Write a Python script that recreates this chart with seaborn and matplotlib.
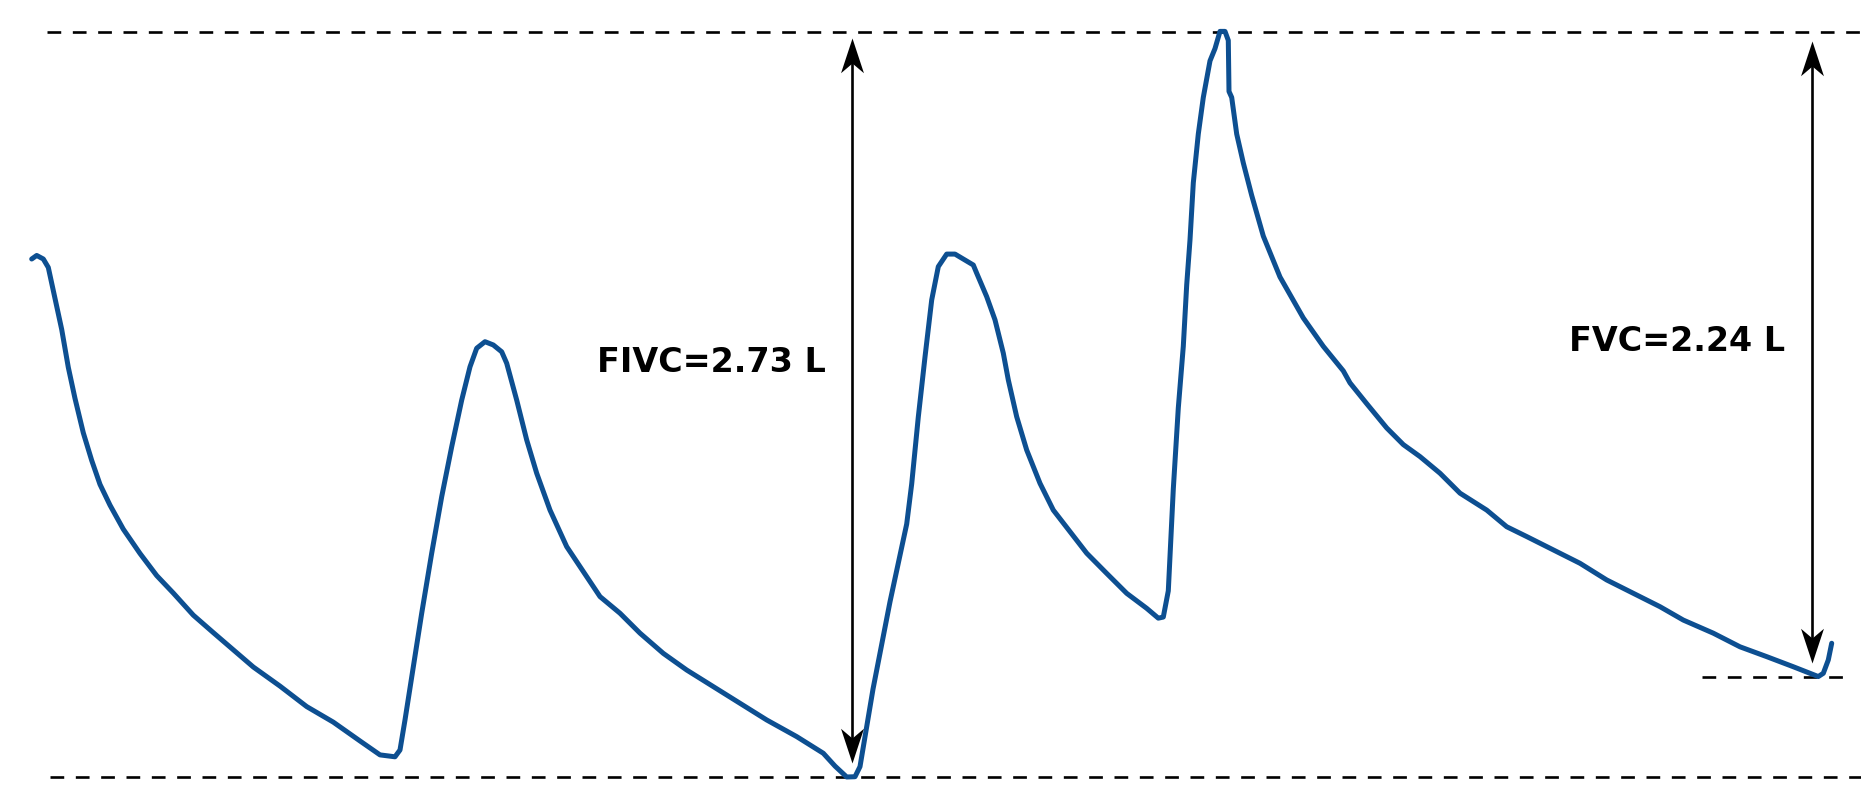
import numpy as np
import pandas as pd
import matplotlib
matplotlib.use("Agg")
import matplotlib.pyplot as plt
from matplotlib.path import Path
import seaborn as sns

# --- data: spirometry volume-time trace (time in s, volume in L) ---
time_s = [0.317, 0.367, 0.433, 0.483, 0.550, 0.617, 0.683, 0.750, 0.833, 0.917,
          1.000, 1.100, 1.233, 1.400, 1.567, 1.733, 1.933, 2.133, 2.333, 2.533,
          2.800, 3.067, 3.333, 3.600, 3.800, 3.950, 4.000, 4.050, 4.133, 4.217,
          4.317, 4.417, 4.517, 4.617, 4.700, 4.767, 4.850, 4.933, 5.017, 5.067,
          5.167, 5.267, 5.367, 5.500, 5.667, 5.800, 6.000, 6.200, 6.400, 6.633,
          6.867, 7.133, 7.400, 7.667, 7.967, 8.233, 8.350, 8.467, 8.550, 8.600,
          8.730, 8.900, 9.067, 9.117, 9.183, 9.250, 9.317, 9.383, 9.467, 9.550,
          9.650, 9.733, 9.767, 9.867, 9.950, 10.033, 10.083, 10.167, 10.267, 10.400,
          10.533, 10.700, 10.867, 11.067, 11.267, 11.467, 11.583, 11.633, 11.683, 11.733,
          11.783, 11.833, 11.867, 11.900, 11.933, 11.983, 12.033, 12.100, 12.150, 12.200,
          12.250, 12.283, 12.290, 12.317, 12.367, 12.433, 12.517, 12.633, 12.800, 13.033,
          13.233, 13.433, 13.500, 13.667, 13.867, 14.033, 14.200, 14.400, 14.600, 14.867,
          15.067, 15.267, 15.533, 15.800, 16.067, 16.333, 16.600, 16.833, 17.133, 17.400,
          17.667, 17.933, 18.100, 18.183, 18.233, 18.283, 18.317]
volume_l = [1.898, 1.911, 1.898, 1.867, 1.753, 1.640, 1.501, 1.387, 1.261, 1.160,
            1.072, 0.996, 0.908, 0.819, 0.738, 0.674, 0.593, 0.529, 0.466, 0.403,
            0.333, 0.258, 0.201, 0.132, 0.081, 0.074, 0.099, 0.209, 0.404, 0.600,
            0.820, 1.027, 1.210, 1.381, 1.503, 1.571, 1.595, 1.583, 1.558, 1.516,
            1.381, 1.235, 1.113, 0.978, 0.844, 0.771, 0.661, 0.600, 0.527, 0.453,
            0.392, 0.331, 0.270, 0.209, 0.148, 0.087, 0.040, 0.000, 0.001, 0.038,
            0.322, 0.642, 0.927, 1.074, 1.319, 1.539, 1.748, 1.870, 1.916, 1.916,
            1.894, 1.876, 1.846, 1.760, 1.675, 1.553, 1.455, 1.320, 1.198, 1.076,
            0.978, 0.899, 0.820, 0.746, 0.673, 0.618, 0.582, 0.586, 0.682, 1.055,
            1.352, 1.578, 1.803, 1.968, 2.177, 2.356, 2.490, 2.624, 2.669, 2.732,
            2.732, 2.699, 2.512, 2.490, 2.356, 2.250, 2.131, 1.982, 1.832, 1.682,
            1.578, 1.488, 1.444, 1.368, 1.279, 1.218, 1.174, 1.113, 1.040, 0.978,
            0.917, 0.881, 0.832, 0.783, 0.722, 0.673, 0.624, 0.575, 0.527, 0.477,
            0.441, 0.404, 0.380, 0.368, 0.380, 0.429, 0.490]

# reference levels (L) and annotation labels
level_top = 2.73
level_bottom = 0.0
level_fvc_end = 0.368
labels = ["FIVC=2.73 L", "FVC=2.24 L"]

df = pd.DataFrame({"t": time_s, "v": volume_l})

sns.set_style("white")
plt.rcParams["font.family"] = ["DejaVu Sans"]

fig = plt.figure(figsize=(18.61, 8.08), dpi=100)
ax = fig.add_axes([0, 0, 1, 1])
ax.set_xlim(0, 18.61)
ax.set_ylim(-0.1136, 2.847)
ax.axis("off")

# dashed reference lines
dash_kw = dict(color="black", lw=1.9, dashes=(5.2, 4.4))
ax.plot([0.47, 18.61], [level_top, level_top], **dash_kw)
ax.plot([0.50, 18.61], [level_bottom, level_bottom], **dash_kw)
ax.plot([17.02, 18.45], [level_fvc_end, level_fvc_end], **dash_kw)

# trace
sns.lineplot(data=df, x="t", y="v", sort=False, estimator=None, ax=ax,
             color="#0d4f91", linewidth=3.6, solid_joinstyle="round",
             solid_capstyle="round")

# double-headed arrows with notched heads
head_up = Path([(0, 0), (0.33, -1.0), (0, -0.72), (-0.33, -1.0), (0, 0)],
               [Path.MOVETO, Path.LINETO, Path.LINETO, Path.LINETO, Path.CLOSEPOLY])
head_down = Path([(0, 0), (0.33, 1.0), (0, 0.72), (-0.33, 1.0), (0, 0)],
                 [Path.MOVETO, Path.LINETO, Path.LINETO, Path.LINETO, Path.CLOSEPOLY])


def double_arrow(x, y_top, y_bot):
    ax.plot([x, x], [y_bot + 0.05, y_top - 0.05], color="black", lw=1.9)
    ax.plot([x], [y_top], marker=head_up, ms=50, color="black", mew=0)
    ax.plot([x], [y_bot], marker=head_down, ms=50, color="black", mew=0)


double_arrow(8.52, level_top - 0.022, level_bottom + 0.051)
double_arrow(18.117, level_top - 0.035, level_fvc_end + 0.05)

ax.text(7.117, 1.517, labels[0], fontsize=24, fontweight="bold",
        ha="center", va="center", color="black")
ax.text(16.77, 1.594, labels[1], fontsize=24, fontweight="bold",
        ha="center", va="center", color="black")

fig.savefig("out.png", dpi=100)
